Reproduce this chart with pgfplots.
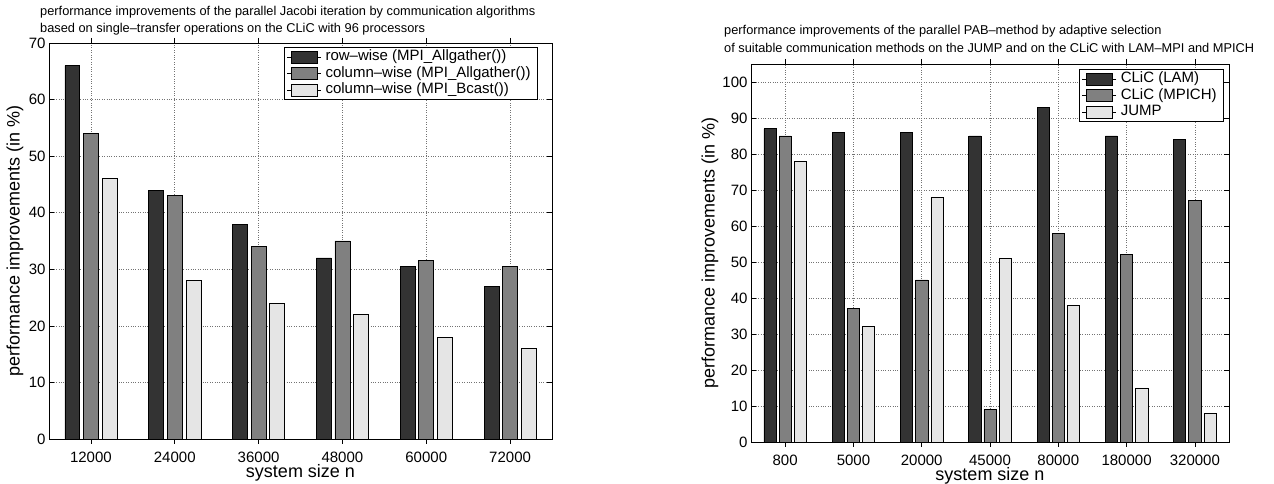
\documentclass[border=0pt]{standalone}
\usepackage{fontspec}
\setmainfont{Liberation Sans}
\usepackage{pgfplots}
\pgfplotsset{compat=1.18}

\definecolor{bardark}{gray}{0.2}
\definecolor{barmid}{gray}{0.5}
\definecolor{barlight}{gray}{0.9}

% matlab-like grouped bar axis, 1pt = 1px of the reference
\pgfplotsset{
  matlab/.style={
    scale only axis,
    anchor=south west,
    ybar,
    bar width=0.178,
    /pgf/number format/assume math mode=true,
    tick label style={font=\fontsize{15}{18}\selectfont},
    xticklabel style={anchor=center, yshift=-13pt},
    grid=major,
    grid style={dotted, black!55, line width=0.55pt},
    major tick length=5pt,
    tick style={black, line width=0.6pt},
    axis line style={line width=0.9pt},
    xlabel style={font=\fontsize{18}{21}\selectfont, at={(axis description cs:0.5,0)}, anchor=center, yshift=-34pt},
    ylabel style={font=\fontsize{18}{21}\selectfont, anchor=center},
    legend cell align=left,
    legend style={font=\fontsize{15}{17}\selectfont, draw=black, line width=0.8pt,
      at={(1,1)}, anchor=north east, inner xsep=3pt, inner ysep=1.5pt, row sep=0pt,
      nodes={inner xsep=4pt, inner ysep=1pt, text height=11pt, text depth=3.5pt}},
    every axis plot post/.append style={draw=black, line width=0.6pt,
      legend image code/.code={
        \path (0pt,0pt) -- (34pt,0pt);
        \draw[##1, line width=0.6pt] (4pt,-6pt) rectangle (30pt,6pt);}},
  }
}

\begin{document}
\begin{tikzpicture}
\path[use as bounding box] (0pt,0pt) rectangle (1274pt,484pt);

% ---- left: Jacobi iteration ----
\node[anchor=base west, inner sep=0pt, font=\fontsize{12.8}{15}\selectfont] at (40pt,468pt)
  {performance improvements of the parallel Jacobi iteration by communication algorithms};
\node[anchor=base west, inner sep=0pt, font=\fontsize{12.8}{15}\selectfont] at (40pt,451.3pt)
  {based on single--transfer operations on the CLiC with 96 processors};

\begin{axis}[matlab,
  at={(49pt,45pt)}, width=503pt, height=396pt,
  xmin=0.5, xmax=6.5, ymin=0, ymax=70,
  xtick={1,2,3,4,5,6},
  xticklabels={12000,24000,36000,48000,60000,72000},
  ytick={0,10,20,30,40,50,60,70},
  xlabel={system size n},
  ylabel={performance improvements (in \%)},
  ylabel style={at={(axis description cs:-0.0676,0.5)}},
  legend style={xshift=-14pt, yshift=-4pt},
]
\addplot[fill=bardark, bar shift=-0.2222] coordinates {(1,66) (2,44) (3,38) (4,32) (5,30.5) (6,27)};
\addplot[fill=barmid, bar shift=0] coordinates {(1,54) (2,43) (3,34) (4,35) (5,31.5) (6,30.5)};
\addplot[fill=barlight, bar shift=0.2222] coordinates {(1,46) (2,28) (3,24) (4,22) (5,18) (6,16)};
\legend{row--wise (MPI\_Allgather()), column--wise (MPI\_Allgather()), column--wise (MPI\_Bcast())}
\end{axis}

% ---- right: PAB method ----
\node[anchor=base west, inner sep=0pt, font=\fontsize{12.8}{15}\selectfont] at (724pt,449pt)
  {performance improvements of the parallel PAB--method by adaptive selection};
\node[anchor=base west, inner sep=0pt, font=\fontsize{12.8}{15}\selectfont] at (724pt,431.3pt)
  {of suitable communication methods on the JUMP and on the CLiC with LAM--MPI and MPICH};

\begin{axis}[matlab,
  at={(751pt,42pt)}, width=478pt, height=378pt,
  xmin=0.5, xmax=7.5, ymin=0, ymax=105,
  xtick={1,2,3,4,5,6,7},
  xticklabels={800,5000,20000,45000,80000,180000,320000},
  ytick={0,10,20,30,40,50,60,70,80,90,100},
  xlabel={system size n},
  ylabel={performance improvements (in \%)},
  ylabel style={at={(axis description cs:-0.0858,0.5)}},
  legend style={xshift=-5pt, yshift=-5pt},
]
\addplot[fill=bardark, bar shift=-0.2222] coordinates {(1,87) (2,86) (3,86) (4,85) (5,93) (6,85) (7,84)};
\addplot[fill=barmid, bar shift=0] coordinates {(1,85) (2,37) (3,45) (4,9) (5,58) (6,52) (7,67)};
\addplot[fill=barlight, bar shift=0.2222] coordinates {(1,78) (2,32) (3,68) (4,51) (5,38) (6,15) (7,8)};
\legend{CLiC (LAM), CLiC (MPICH), JUMP}
\end{axis}
\end{tikzpicture}
\end{document}
